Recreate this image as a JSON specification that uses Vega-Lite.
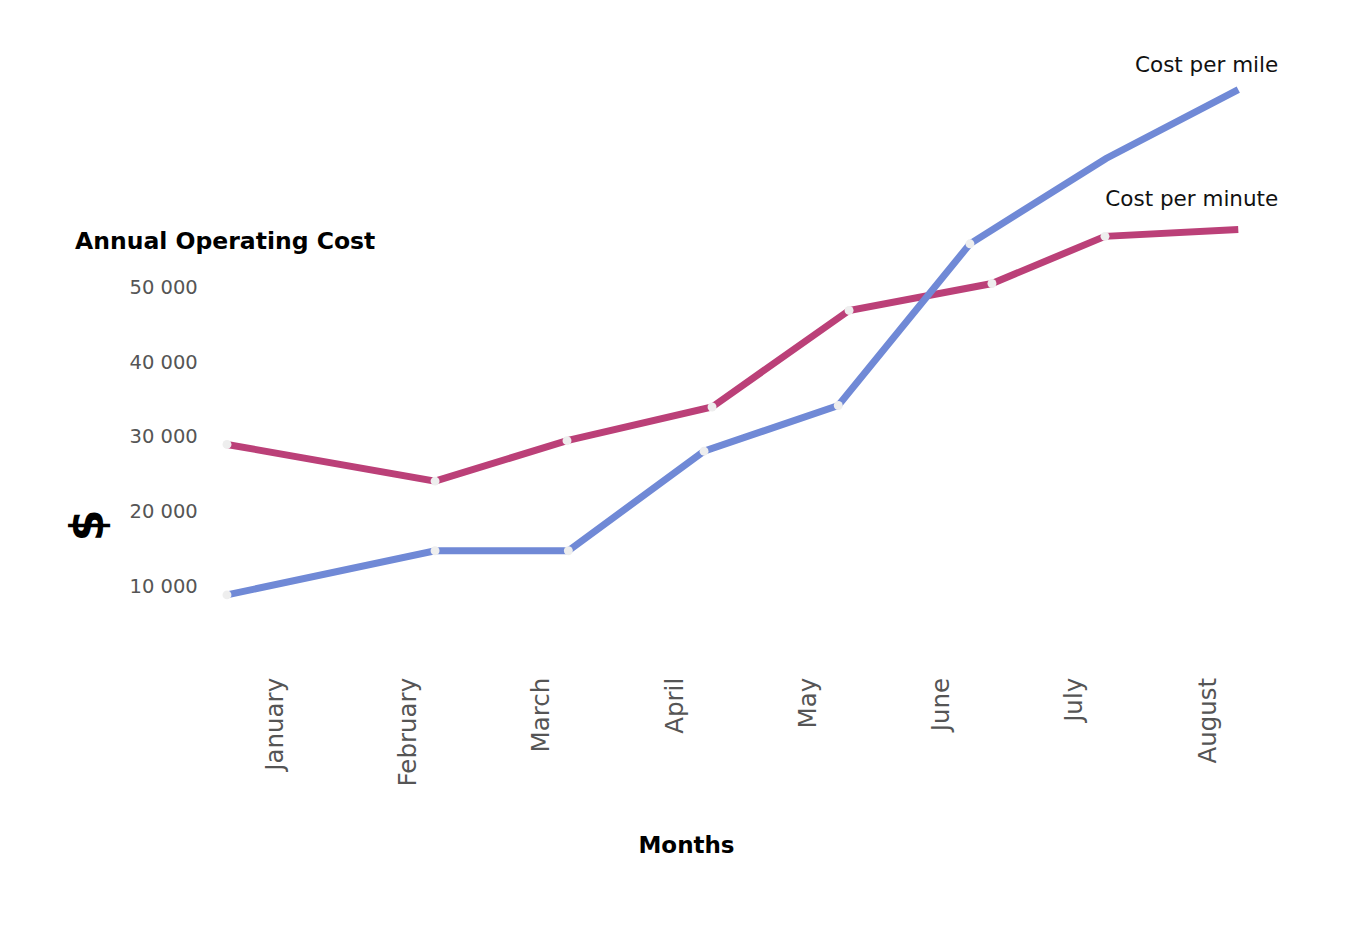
{
  "$schema": "https://vega.github.io/schema/vega-lite/v6.json",
  "autosize": {"type": "none"},
  "padding": {"left": 208.6, "top": 62.7, "right": 88.4, "bottom": 265.5},
  "width": 1053,
  "height": 598.8,
  "background": "#ffffff",
  "view": {"stroke": null},
  "title": {
    "text": "Annual Operating Cost",
    "anchor": "start",
    "frame": "group",
    "baseline": "alphabetic",
    "offset": 0,
    "dx": -133.6,
    "dy": 217.5,
    "font": "DejaVu Sans",
    "fontSize": 23.5,
    "fontWeight": "bold",
    "color": "#000000"
  },
  "data": {
    "values": [
      {"series": "Cost per minute", "month": "January", "pos": -0.362, "cost": 29000},
      {"series": "Cost per minute", "month": "February", "pos": 1.199, "cost": 24100},
      {"series": "Cost per minute", "month": "March", "pos": 2.189, "cost": 29500},
      {"series": "Cost per minute", "month": "April", "pos": 3.277, "cost": 34000},
      {"series": "Cost per minute", "month": "May", "pos": 4.305, "cost": 46900},
      {"series": "Cost per minute", "month": "June", "pos": 5.377, "cost": 50500},
      {"series": "Cost per minute", "month": "July", "pos": 6.225, "cost": 56800},
      {"series": "Cost per minute", "month": "August", "pos": 7.225, "cost": 57700},
      {"series": "Cost per mile", "month": "January", "pos": -0.362, "cost": 8900},
      {"series": "Cost per mile", "month": "February", "pos": 1.199, "cost": 14800},
      {"series": "Cost per mile", "month": "March", "pos": 2.199, "cost": 14800},
      {"series": "Cost per mile", "month": "April", "pos": 3.217, "cost": 28100},
      {"series": "Cost per mile", "month": "May", "pos": 4.224, "cost": 34200},
      {"series": "Cost per mile", "month": "June", "pos": 5.212, "cost": 55800},
      {"series": "Cost per mile", "month": "July", "pos": 6.233, "cost": 67200},
      {"series": "Cost per mile", "month": "August", "pos": 7.225, "cost": 76400}
    ]
  },
  "encoding": {
    "x": {
      "field": "pos",
      "type": "quantitative",
      "scale": {"domain": [-0.5, 7.4], "nice": false, "zero": false},
      "axis": {
        "values": [0, 1, 2, 3, 4, 5, 6, 7],
        "labelExpr": "['January','February','March','April','May','June','July','August'][datum.value]",
        "labelAngle": 270,
        "labelAlign": "right",
        "labelBaseline": "middle",
        "labelPadding": 15.8,
        "labelFont": "DejaVu Sans",
        "labelFontSize": 24.5,
        "labelColor": "#555555",
        "grid": false,
        "domain": false,
        "ticks": false,
        "title": "Months",
        "titleFont": "DejaVu Sans",
        "titleFontSize": 23,
        "titleFontWeight": "bold",
        "titleColor": "#000000",
        "titleX": 477.4,
        "titleY": 190.5,
        "titleAlign": "center",
        "titleBaseline": "alphabetic"
      }
    },
    "y": {
      "field": "cost",
      "type": "quantitative",
      "scale": {"domain": [0, 80000], "nice": false},
      "axis": {
        "values": [10000, 20000, 30000, 40000, 50000],
        "labelExpr": "replace(format(datum.value, ','), ',', ' ')",
        "labelAlign": "left",
        "labelBaseline": "middle",
        "labelPadding": 79.6,
        "labelFont": "DejaVu Sans",
        "labelFontSize": 19.5,
        "labelColor": "#555555",
        "grid": false,
        "domain": false,
        "ticks": false,
        "title": "$",
        "titleFont": "DejaVu Sans",
        "titleFontSize": 46,
        "titleFontWeight": "bold",
        "titleColor": "#000000",
        "titleAngle": 270,
        "titleX": -120.6,
        "titleY": 462.3,
        "titleAlign": "center",
        "titleBaseline": "middle"
      }
    }
  },
  "layer": [
    {
      "mark": {"type": "line", "strokeWidth": 7, "strokeCap": "butt"},
      "encoding": {
        "color": {
          "field": "series",
          "type": "nominal",
          "scale": {"domain": ["Cost per minute", "Cost per mile"], "range": ["#bb4078", "#7089d6"]},
          "legend": null
        }
      }
    },
    {
      "transform": [
        {"filter": "datum.month != 'August' && !(datum.series == 'Cost per mile' && datum.month == 'July')"}
      ],
      "mark": {"type": "circle", "size": 80, "color": "#eeeeee", "opacity": 1},
      "encoding": {}
    },
    {
      "transform": [
        {"filter": "datum.month == 'August' && datum.series == 'Cost per mile'"}
      ],
      "mark": {"type": "text", "align": "right", "baseline": "alphabetic", "dx": 40, "dy": -18, "font": "DejaVu Sans", "fontSize": 21.5, "color": "#111111"},
      "encoding": {"text": {"field": "series"}}
    },
    {
      "transform": [
        {"filter": "datum.month == 'August' && datum.series == 'Cost per minute'"}
      ],
      "mark": {"type": "text", "align": "right", "baseline": "alphabetic", "dx": 40, "dy": -24, "font": "DejaVu Sans", "fontSize": 21.5, "color": "#111111"},
      "encoding": {"text": {"field": "series"}}
    }
  ]
}
